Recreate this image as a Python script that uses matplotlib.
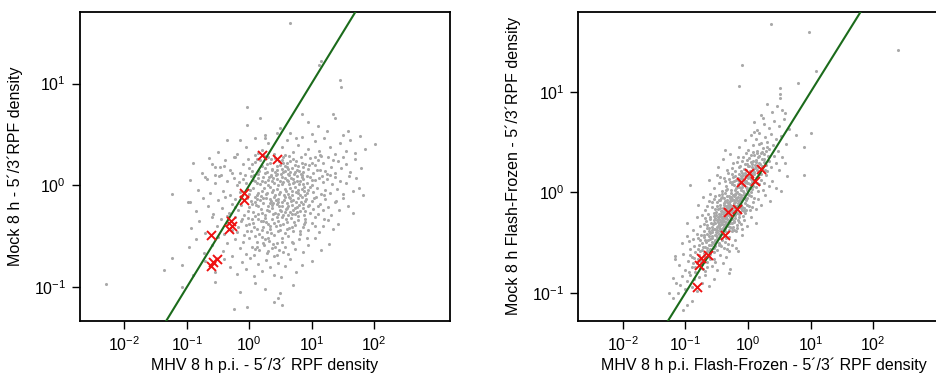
import numpy as np
import matplotlib
matplotlib.use('Agg')
import matplotlib.pyplot as plt
from matplotlib.ticker import NullLocator

plt.rcParams['font.family'] = ['Liberation Sans', 'DejaVu Sans']
plt.rcParams['mathtext.default'] = 'regular'

# ---- data (log10 values) ----
left_grey = [
    # ly > 0.55
    (0.66, 1.59), (1.15, 1.22), (1.12, 1.18), (1.45, 1.04), (1.48, 0.97),
    (-0.04, 0.77), (0.18, 0.66), (-0.04, 0.59), (0.85, 0.70), (1.35, 0.70), (1.37, 0.66),
    (1.58, 0.53), (1.78, 0.49), (0.95, 0.62), (0.5, 0.56), (1.1, 0.58),
    # 0.3 .. 0.55
    (2.02, 0.41), (1.62, 0.45), (1.45, 0.42), (1.3, 0.38), (1.2, 0.47), (1.05, 0.44), (0.95, 0.36),
    (0.85, 0.48), (0.78, 0.40), (0.7, 0.33), (0.6, 0.45), (0.52, 0.38), (0.4, 0.31), (0.3, 0.42),
    (0.2, 0.35), (0.1, 0.47), (-0.05, 0.38), (-0.2, 0.31), (-0.35, 0.45), (-0.5, 0.33), (1.55, 0.34),
    (1.7, 0.32), (1.38, 0.31), (1.12, 0.34), (0.9, 0.31), (0.45, 0.52), (0.25, 0.5), (1.0, 0.51),
    (1.25, 0.53), (0.65, 0.52), (1.5, 0.50), (0.15, 0.32), (-0.15, 0.45), (0.75, 0.47), (1.85, 0.36),
    # 0.1 .. 0.3
    (-0.9, 0.22), (-0.75, 0.12), (-0.65, 0.27), (-0.55, 0.18), (-0.45, 0.1), (-0.38, 0.25), (-0.3, 0.15),
    (-0.22, 0.28), (-0.15, 0.12), (-0.1, 0.21), (-0.02, 0.26), (0.05, 0.14), (0.1, 0.23), (0.14, 0.11),
    (0.2, 0.19), (0.24, 0.29), (0.28, 0.13), (0.33, 0.22), (0.37, 0.16), (0.41, 0.27), (0.45, 0.11),
    (0.49, 0.2), (0.53, 0.25), (0.57, 0.14), (0.61, 0.22), (0.64, 0.29), (0.68, 0.17), (0.72, 0.11),
    (0.75, 0.24), (0.79, 0.19), (0.83, 0.28), (0.87, 0.13), (0.9, 0.21), (0.94, 0.16), (0.98, 0.27),
    (1.02, 0.12), (1.06, 0.2), (1.1, 0.25), (1.14, 0.15), (1.18, 0.22), (1.22, 0.14), (1.27, 0.28),
    (1.32, 0.18), (1.38, 0.12), (1.42, 0.24), (1.48, 0.17), (1.55, 0.21), (1.62, 0.13), (1.7, 0.26),
    (1.8, 0.17), (0.58, 0.3), (0.3, 0.28), (0.85, 0.1), (1.25, 0.11), (0.0, 0.17), (0.12, 0.26),
    (0.44, 0.19), (0.7, 0.26), (0.96, 0.2), (1.15, 0.29), (-0.6, 0.21), (0.35, 0.1), (0.62, 0.11),
    (1.35, 0.25), (0.08, 0.1), (0.52, 0.16), (0.8, 0.14), (1.05, 0.28), (0.26, 0.47), (-0.25, 0.28),
    (-0.46, 0.18), (-0.54, 0.105), (-0.68, 0.06),
    # -0.1 .. 0.1
    (-1.23, -0.08), (-0.94, 0.05), (-0.82, -0.04), (-0.7, 0.08), (-0.62, -0.07), (-0.55, 0.02),
    (-0.48, 0.09), (-0.42, -0.05), (-0.36, 0.04), (-0.3, -0.09), (-0.25, 0.07), (-0.2, 0.0),
    (-0.14, -0.06), (-0.1, 0.06), (-0.05, 0.02), (0.0, -0.08), (0.03, 0.09), (0.06, -0.02),
    (0.09, 0.04), (0.12, -0.09), (0.15, 0.07), (0.17, 0.01), (0.2, -0.05), (0.23, 0.08), (0.25, 0.03),
    (0.28, -0.07), (0.3, 0.05), (0.33, -0.01), (0.35, 0.09), (0.38, -0.04), (0.4, 0.02), (0.42, -0.09),
    (0.45, 0.06), (0.47, 0.0), (0.5, -0.06), (0.52, 0.08), (0.55, 0.03), (0.57, -0.03), (0.6, 0.05),
    (0.62, -0.08), (0.64, 0.01), (0.67, 0.07), (0.69, -0.05), (0.72, 0.03), (0.74, -0.01), (0.77, 0.09),
    (0.79, -0.07), (0.82, 0.04), (0.84, -0.03), (0.87, 0.06), (0.9, -0.09), (0.92, 0.02), (0.95, -0.04),
    (0.98, 0.08), (1.0, 0.0), (1.03, -0.06), (1.06, 0.05), (1.09, -0.02), (1.12, 0.07), (1.15, -0.08),
    (1.18, 0.03), (1.21, -0.04), (1.25, 0.06), (1.29, -0.07), (1.33, 0.01), (1.37, 0.08), (1.41, -0.03),
    (1.46, 0.04), (1.5, -0.08), (1.55, 0.02), (1.6, 0.09), (1.66, -0.05), (1.71, 0.07), (1.76, -0.02),
    (1.83, -0.09), (0.24, -0.02), (0.36, 0.04), (0.44, -0.03), (0.53, 0.01), (0.58, 0.07), (0.66, -0.02),
    (0.71, 0.06), (0.8, 0.01), (0.88, -0.05), (0.31, 0.0), (0.49, 0.04), (0.63, 0.04), (0.75, -0.06),
    (0.85, 0.08), (0.97, -0.01), (0.13, 0.02),
    # -0.3 .. -0.1
    (-0.98, -0.16), (-0.85, -0.25), (-0.74, -0.12), (-0.66, -0.2), (-0.58, -0.28), (-0.5, -0.14),
    (-0.44, -0.22), (-0.38, -0.11), (-0.33, -0.27), (-0.27, -0.18), (-0.22, -0.13), (-0.18, -0.24),
    (-0.13, -0.19), (-0.08, -0.29), (-0.04, -0.12), (0.0, -0.21), (0.03, -0.15), (0.06, -0.26),
    (0.09, -0.11), (0.11, -0.19), (0.14, -0.28), (0.17, -0.14), (0.19, -0.23), (0.22, -0.17),
    (0.25, -0.29), (0.27, -0.12), (0.3, -0.2), (0.32, -0.25), (0.35, -0.15), (0.37, -0.22), (0.4, -0.11),
    (0.42, -0.27), (0.44, -0.18), (0.47, -0.13), (0.49, -0.24), (0.52, -0.2), (0.54, -0.29),
    (0.56, -0.14), (0.59, -0.23), (0.61, -0.17), (0.64, -0.11), (0.66, -0.26), (0.68, -0.19),
    (0.71, -0.14), (0.73, -0.28), (0.76, -0.21), (0.78, -0.12), (0.81, -0.25), (0.83, -0.16),
    (0.86, -0.22), (0.88, -0.29), (0.91, -0.13), (0.94, -0.2), (0.97, -0.27), (1.0, -0.15),
    (1.03, -0.23), (1.07, -0.11), (1.1, -0.28), (1.14, -0.18), (1.18, -0.24), (1.22, -0.13),
    (1.27, -0.21), (1.32, -0.29), (1.38, -0.16), (1.44, -0.24), (1.5, -0.12), (1.58, -0.2),
    (1.67, -0.27), (0.15, -0.2), (0.23, -0.12), (0.28, -0.24), (0.33, -0.17), (0.38, -0.28),
    (0.43, -0.14), (0.48, -0.2), (0.53, -0.16), (0.58, -0.26), (0.63, -0.2), (0.7, -0.24), (0.75, -0.16),
    (0.8, -0.19), (0.05, -0.18), (0.2, -0.27), (0.36, -0.19), (0.57, -0.11), (0.67, -0.15), (0.9, -0.25),
    (-0.02, -0.25), (0.12, -0.13), (0.46, -0.28), (0.62, -0.29), (0.85, -0.11), (-0.94, -0.16),
    # -0.5 .. -0.3
    (-0.93, -0.42), (-0.8, -0.35), (-0.7, -0.47), (-0.6, -0.31), (-0.52, -0.4), (-0.45, -0.33),
    (-0.4, -0.48), (-0.34, -0.37), (-0.28, -0.44), (-0.23, -0.31), (-0.18, -0.41), (-0.13, -0.35),
    (-0.09, -0.49), (-0.05, -0.39), (-0.01, -0.32), (0.03, -0.45), (0.06, -0.37), (0.1, -0.3),
    (0.13, -0.43), (0.16, -0.48), (0.19, -0.35), (0.22, -0.41), (0.25, -0.32), (0.28, -0.46),
    (0.31, -0.38), (0.34, -0.43), (0.37, -0.33), (0.4, -0.49), (0.43, -0.4), (0.46, -0.35),
    (0.49, -0.44), (0.52, -0.31), (0.55, -0.38), (0.58, -0.47), (0.61, -0.36), (0.64, -0.42),
    (0.67, -0.32), (0.7, -0.45), (0.74, -0.39), (0.78, -0.34), (0.82, -0.48), (0.86, -0.41),
    (0.9, -0.33), (0.95, -0.44), (1.0, -0.37), (1.06, -0.31), (1.12, -0.46), (1.19, -0.4),
    (1.27, -0.34), (1.35, -0.43), (1.43, -0.38), (0.08, -0.41), (0.2, -0.44), (0.27, -0.36),
    (0.35, -0.47), (0.45, -0.31), (0.5, -0.39), (0.6, -0.43), (0.72, -0.36), (0.15, -0.33),
    (0.4, -0.37), (-0.2, -0.46), (0.88, -0.38),
    # -0.7 .. -0.5
    (-1.23, -0.71), (-0.97, -0.6), (-0.85, -0.53), (-0.72, -0.66), (-0.6, -0.58), (-0.5, -0.51),
    (-0.42, -0.64), (-0.35, -0.56), (-0.28, -0.69), (-0.22, -0.53), (-0.15, -0.61), (-0.1, -0.55),
    (-0.05, -0.67), (0.0, -0.52), (0.04, -0.6), (0.08, -0.68), (0.12, -0.55), (0.16, -0.63),
    (0.2, -0.51), (0.24, -0.58), (0.28, -0.66), (0.32, -0.54), (0.36, -0.61), (0.4, -0.69),
    (0.44, -0.56), (0.48, -0.63), (0.53, -0.52), (0.58, -0.6), (0.63, -0.67), (0.68, -0.55),
    (0.74, -0.62), (0.8, -0.53), (0.87, -0.65), (0.95, -0.58), (1.05, -0.52), (1.15, -0.63),
    (1.28, -0.57), (0.1, -0.62), (0.26, -0.53), (0.38, -0.57), (0.55, -0.65),
    # -0.9 .. -0.7
    (-1.36, -0.83), (-1.08, -0.78), (-0.9, -0.88), (-0.7, -0.74), (-0.55, -0.85), (-0.4, -0.72),
    (-0.3, -0.8), (-0.2, -0.87), (-0.12, -0.75), (-0.05, -0.82), (0.02, -0.71), (0.08, -0.89),
    (0.14, -0.77), (0.2, -0.84), (0.27, -0.73), (0.33, -0.8), (0.4, -0.88), (0.46, -0.76),
    (0.51, -0.9), (0.58, -0.79), (0.66, -0.72), (0.75, -0.85), (0.85, -0.78), (1.0, -0.74),
    # below -0.9
    (-2.29, -0.97), (-1.08, -1.0), (-0.25, -1.21), (-0.04, -1.19), (0.4, -1.14), (0.47, -1.1),
    (0.53, -1.17), (0.5, -1.06), (-0.55, -0.95), (0.1, -0.96), (0.25, -1.02), (-0.15, -1.05),
    (0.7, -0.98),
    # extra points in the dense core
    (0.07, 0.05), (0.19, -0.1), (0.26, 0.12), (0.34, -0.13), (0.39, 0.07), (0.46, -0.16), (0.51, 0.11),
    (0.56, -0.09), (0.6, 0.18), (0.65, -0.12), (0.7, 0.02), (0.73, -0.22), (0.77, 0.15), (0.82, -0.09),
    (0.86, 0.18), (0.89, -0.15), (0.93, 0.09), (0.96, -0.19), (1.01, 0.05), (1.04, -0.12), (1.08, 0.15),
    (1.11, -0.2), (1.16, 0.09), (1.2, -0.09), (0.02, -0.04), (0.1, -0.16), (0.16, 0.14), (0.22, -0.35),
    (0.29, 0.21), (0.34, -0.4), (0.41, 0.13), (0.47, -0.45), (0.54, 0.22), (0.59, -0.33), (0.63, 0.16),
    (0.69, -0.41), (0.74, 0.2), (0.79, -0.3), (0.84, 0.22), (0.9, -0.36), (-0.07, 0.1), (-0.12, -0.33),
    (-0.17, 0.03), (-0.23, -0.21), (-0.28, 0.12), (-0.35, -0.3), (-0.4, 0.19), (0.0, -0.38), (0.05, 0.21),
    (0.1, -0.5), (0.18, 0.25), (0.23, -0.56), (0.3, -0.52), (0.36, 0.15), (0.42, -0.6), (0.48, 0.24),
    (0.52, -0.55), (0.57, 0.19), (0.62, -0.5), (0.66, 0.13), (0.71, -0.56), (0.76, 0.04), (0.81, -0.45),
    (0.86, 0.01), (0.93, -0.52), (1.0, 0.22), (1.06, -0.4), (1.13, 0.3), (1.2, -0.33), (1.3, 0.1),
    (1.4, -0.15), (1.5, 0.28), (0.27, -0.08), (0.32, 0.08), (0.37, -0.06), (0.43, 0.1), (0.48, -0.08),
    (0.54, 0.13), (0.59, -0.05), (0.64, 0.1), (0.68, -0.09), (0.73, 0.13), (0.78, -0.04), (0.83, 0.11),
    (0.88, -0.01), (0.93, -0.07), (0.21, 0.04), (0.15, -0.07), (0.39, -0.17), (0.51, -0.25), (0.6, -0.22),
    (0.69, -0.28), (0.77, -0.26), (0.87, -0.18), (0.45, 0.15), (0.35, 0.26), (0.25, 0.17), (0.55, 0.28),
    (0.65, 0.24), (0.04, -0.33), (-0.03, -0.45), (0.09, 0.3), (0.13, -0.6), (0.3, -0.64), (0.45, -0.68),
]
left_red = [
    (0.2, 0.30), (0.44, 0.26), (-0.08, -0.07), (-0.08, -0.14), (-0.29, -0.35), (-0.33, -0.43),
    (-0.27, -0.40), (-0.61, -0.49), (-0.52, -0.72), (-0.58, -0.75), (-0.61, -0.79),
]

right_grey = [
    # outliers
    (0.37, 1.68), (0.98, 1.60), (2.4, 1.42), (-0.09, 1.27), (1.09, 1.21), (-0.15, 1.06), (0.8, 1.09),
    (0.51, 1.04), (0.51, 0.98), (0.51, 0.94),
    # 0.6 .. 0.9
    (0.15, 0.62), (0.25, 0.68), (0.33, 0.64), (0.42, 0.71), (0.5, 0.66), (0.58, 0.73), (0.2, 0.77),
    (0.38, 0.8), (0.47, 0.86), (0.3, 0.88), (0.55, 0.82), (0.65, 0.63), (0.1, 0.7), (0.24, 0.74),
    (0.59, 0.79),
    # 0.4 .. 0.6
    (-0.15, 0.45), (-0.05, 0.52), (0.0, 0.42), (0.05, 0.57), (0.08, 0.47), (0.12, 0.53), (0.15, 0.41),
    (0.18, 0.59), (0.21, 0.49), (0.24, 0.44), (0.27, 0.55), (0.3, 0.5), (0.33, 0.43), (0.36, 0.58),
    (0.4, 0.47), (0.44, 0.53), (0.48, 0.41), (0.53, 0.56), (0.6, 0.48), (0.76, 0.57), (1.0, 0.59),
    (0.9, 0.45), (-0.37, 0.42), (0.1, 0.6), (0.28, 0.41),
    # 0.2 .. 0.4
    (-0.48, 0.25), (-0.4, 0.33), (-0.33, 0.22), (-0.28, 0.38), (-0.24, 0.29), (-0.2, 0.21),
    (-0.16, 0.35), (-0.13, 0.26), (-0.1, 0.31), (-0.07, 0.23), (-0.04, 0.39), (-0.02, 0.28),
    (0.01, 0.34), (0.03, 0.21), (0.05, 0.3), (0.07, 0.25), (0.09, 0.37), (0.11, 0.27), (0.13, 0.32),
    (0.15, 0.22), (0.17, 0.36), (0.19, 0.28), (0.21, 0.24), (0.23, 0.33), (0.26, 0.38), (0.28, 0.27),
    (0.31, 0.21), (0.34, 0.31), (0.37, 0.25), (0.41, 0.36), (0.45, 0.29), (0.5, 0.22), (0.59, 0.29),
    (0.55, 0.35), (-0.08, 0.35), (0.0, 0.26), (0.04, 0.37), (0.08, 0.22), (0.12, 0.3), (0.16, 0.25),
    (-0.12, 0.21), (-0.18, 0.3), (0.2, 0.39), (0.25, 0.3), (-0.01, 0.32), (0.06, 0.28), (0.14, 0.39),
    (-0.25, 0.24), (0.32, 0.36),
    # 0.0 .. 0.2
    (-0.93, 0.07), (-0.62, 0.12), (-0.55, 0.04), (-0.5, 0.17), (-0.46, 0.09), (-0.42, 0.01),
    (-0.39, 0.14), (-0.35, 0.06), (-0.32, 0.19), (-0.29, 0.1), (-0.27, 0.02), (-0.24, 0.15),
    (-0.22, 0.07), (-0.19, 0.12), (-0.17, 0.0), (-0.15, 0.18), (-0.13, 0.09), (-0.11, 0.04),
    (-0.09, 0.14), (-0.07, 0.07), (-0.05, 0.19), (-0.03, 0.11), (-0.01, 0.02), (0.01, 0.16),
    (0.03, 0.08), (0.05, 0.13), (0.07, 0.03), (0.09, 0.18), (0.11, 0.1), (0.13, 0.05), (0.15, 0.15),
    (0.18, 0.08), (0.21, 0.12), (0.24, 0.02), (0.28, 0.17), (0.33, 0.06), (0.38, 0.11), (0.45, 0.04),
    (0.53, 0.01), (0.9, 0.17), (0.62, 0.16), (-0.3, 0.13), (-0.26, 0.08), (-0.21, 0.16), (-0.18, 0.05),
    (-0.14, 0.11), (-0.12, 0.16), (-0.1, 0.08), (-0.08, 0.01), (-0.06, 0.12), (-0.04, 0.05),
    (-0.02, 0.15), (0.0, 0.09), (0.02, 0.04), (0.04, 0.19), (0.06, 0.1), (-0.2, 0.02), (-0.16, 0.14),
    (-0.25, 0.18), (-0.36, 0.11), (-0.44, 0.15), (0.08, 0.06), (0.12, 0.14), (0.16, 0.01), (0.2, 0.18),
    (-0.33, 0.03), (-0.23, 0.11), (-0.09, 0.19), (0.26, 0.09), (0.1, 0.12), (-0.12, 0.02),
    # -0.2 .. 0.0
    (-0.8, -0.12), (-0.72, -0.05), (-0.68, -0.17), (-0.63, -0.09), (-0.6, -0.02), (-0.57, -0.14),
    (-0.54, -0.07), (-0.51, -0.19), (-0.49, -0.1), (-0.47, -0.03), (-0.45, -0.15), (-0.43, -0.06),
    (-0.41, -0.18), (-0.39, -0.11), (-0.37, -0.01), (-0.35, -0.13), (-0.33, -0.08), (-0.31, -0.17),
    (-0.3, -0.04), (-0.28, -0.12), (-0.26, -0.19), (-0.25, -0.07), (-0.23, -0.14), (-0.21, -0.02),
    (-0.2, -0.1), (-0.18, -0.16), (-0.16, -0.05), (-0.14, -0.12), (-0.13, -0.19), (-0.11, -0.08),
    (-0.09, -0.14), (-0.07, -0.03), (-0.05, -0.11), (-0.03, -0.17), (-0.01, -0.06), (0.02, -0.13),
    (0.05, -0.04), (0.08, -0.1), (0.12, -0.16), (0.16, -0.07), (0.21, -0.12), (0.27, -0.03),
    (0.35, -0.09), (-0.5, -0.13), (-0.46, -0.08), (-0.44, -0.12), (-0.42, -0.02), (-0.4, -0.15),
    (-0.38, -0.06), (-0.36, -0.17), (-0.34, -0.04), (-0.32, -0.12), (-0.29, -0.09), (-0.27, -0.15),
    (-0.24, -0.03), (-0.22, -0.11), (-0.19, -0.06), (-0.17, -0.13), (-0.15, -0.09), (-0.12, -0.03),
    (-0.1, -0.17), (-0.08, -0.06), (-0.06, -0.15), (-0.04, -0.08), (-0.02, -0.12), (0.0, -0.02),
    (0.03, -0.17), (-0.27, -0.01), (-0.31, -0.11), (-0.35, -0.19), (-0.25, -0.13), (-0.21, -0.17),
    (-0.19, -0.01), (-0.16, -0.11), (-0.13, -0.07), (-0.48, -0.16), (-0.52, -0.04), (-0.58, -0.1),
    (-0.65, -0.13), (0.06, -0.14), (0.1, -0.06), (-0.37, -0.09), (-0.29, -0.06), (-0.23, -0.08),
    (-0.11, -0.12), (-0.07, -0.18), (-0.41, -0.05), (-0.53, -0.16),
    # -0.4 .. -0.2
    (-0.97, -0.3), (-0.88, -0.37), (-0.82, -0.24), (-0.77, -0.33), (-0.73, -0.22), (-0.7, -0.38),
    (-0.67, -0.28), (-0.64, -0.21), (-0.62, -0.35), (-0.6, -0.26), (-0.58, -0.39), (-0.56, -0.31),
    (-0.54, -0.23), (-0.52, -0.36), (-0.5, -0.27), (-0.48, -0.33), (-0.47, -0.21), (-0.45, -0.38),
    (-0.43, -0.29), (-0.41, -0.24), (-0.4, -0.35), (-0.38, -0.22), (-0.36, -0.31), (-0.34, -0.26),
    (-0.33, -0.39), (-0.31, -0.28), (-0.29, -0.34), (-0.27, -0.23), (-0.25, -0.3), (-0.23, -0.37),
    (-0.2, -0.25), (-0.17, -0.32), (-0.14, -0.21), (-0.1, -0.36), (-0.06, -0.27), (-0.02, -0.33),
    (0.04, -0.24), (0.12, -0.3), (-0.66, -0.32), (-0.61, -0.24), (-0.57, -0.34), (-0.55, -0.27),
    (-0.53, -0.3), (-0.51, -0.22), (-0.49, -0.37), (-0.46, -0.26), (-0.44, -0.32), (-0.42, -0.36),
    (-0.4, -0.27), (-0.39, -0.21), (-0.37, -0.35), (-0.35, -0.29), (-0.32, -0.22), (-0.3, -0.37),
    (-0.28, -0.3), (-0.26, -0.26), (-0.24, -0.34), (-0.22, -0.29), (-0.19, -0.38), (-0.16, -0.27),
    (-0.12, -0.31), (-0.08, -0.23), (-0.48, -0.29), (-0.5, -0.39), (-0.45, -0.23), (-0.41, -0.31),
    (-0.36, -0.25), (-0.32, -0.33), (-0.59, -0.3), (-0.63, -0.38), (-0.68, -0.25), (-0.71, -0.31),
    (-0.26, -0.38), (-0.21, -0.22), (-0.18, -0.35), (-0.43, -0.21), (-0.55, -0.36), (-0.34, -0.39),
    (-0.38, -0.28), (-0.47, -0.34), (-0.52, -0.25), (-0.29, -0.24), (-0.15, -0.29),
    # -0.6 .. -0.4
    (-1.05, -0.5), (-0.98, -0.43), (-0.92, -0.56), (-0.88, -0.46), (-0.85, -0.59), (-0.82, -0.41),
    (-0.79, -0.52), (-0.76, -0.47), (-0.74, -0.57), (-0.71, -0.44), (-0.69, -0.54), (-0.67, -0.49),
    (-0.65, -0.41), (-0.63, -0.58), (-0.61, -0.46), (-0.59, -0.52), (-0.57, -0.43), (-0.55, -0.55),
    (-0.53, -0.48), (-0.51, -0.42), (-0.49, -0.57), (-0.47, -0.5), (-0.45, -0.45), (-0.43, -0.53),
    (-0.4, -0.41), (-0.37, -0.49), (-0.34, -0.56), (-0.3, -0.44), (-0.26, -0.52), (-0.21, -0.47),
    (-0.16, -0.58), (-0.1, -0.42), (-0.19, -0.55), (-0.3, -0.58), (-0.8, -0.45), (-0.73, -0.5),
    (-0.66, -0.55), (-0.62, -0.43), (-0.58, -0.49), (-0.54, -0.59), (-0.5, -0.46), (-0.46, -0.52),
    (-0.42, -0.47), (-0.39, -0.55), (-0.36, -0.43), (-0.32, -0.51), (-0.7, -0.42), (-0.86, -0.53),
    (-0.94, -0.48), (-0.6, -0.56), (-0.44, -0.42), (-0.52, -0.53), (-0.77, -0.58), (-0.68, -0.47),
    # -0.8 .. -0.6
    (-1.17, -0.63), (-1.17, -0.66), (-1.1, -0.72), (-1.04, -0.61), (-1.0, -0.77), (-0.96, -0.68),
    (-0.93, -0.62), (-0.9, -0.74), (-0.87, -0.65), (-0.84, -0.79), (-0.82, -0.7), (-0.79, -0.62),
    (-0.77, -0.75), (-0.75, -0.67), (-0.73, -0.71), (-0.7, -0.63), (-0.68, -0.78), (-0.65, -0.69),
    (-0.62, -0.64), (-0.58, -0.73), (-0.54, -0.66), (-0.5, -0.77), (-0.45, -0.62), (-0.4, -0.7),
    (-0.35, -0.64), (-0.28, -0.76), (-0.88, -0.7), (-0.8, -0.66), (-0.72, -0.76), (-0.6, -0.61),
    (-0.95, -0.79), (-0.52, -0.69), (-0.66, -0.74), (-0.3, -0.8),
    # -1.0 .. -0.8
    (-1.26, -1.0), (-1.2, -0.85), (-1.12, -1.0), (-1.08, -0.92), (-1.05, -0.83), (-1.0, -0.96),
    (-0.97, -0.88), (-0.93, -0.82), (-0.9, -0.94), (-0.86, -0.86), (-0.82, -0.98), (-0.78, -0.84),
    (-0.73, -0.9), (-0.68, -0.82), (-0.62, -0.93), (-0.55, -0.86), (-1.15, -0.9),
    # below -1.0
    (-1.04, -1.17), (-1.2, -1.05), (-0.9, -1.08), (-0.98, -1.12),
    # extra points along the dense band
    (-0.76, -0.68), (-0.7, -0.6), (-0.66, -0.58), (-0.62, -0.52), (-0.58, -0.45), (-0.56, -0.5),
    (-0.53, -0.42), (-0.51, -0.39), (-0.49, -0.44), (-0.47, -0.31), (-0.45, -0.27), (-0.44, -0.36),
    (-0.42, -0.25), (-0.4, -0.19), (-0.39, -0.33), (-0.37, -0.16), (-0.35, -0.24), (-0.34, -0.1),
    (-0.32, -0.2), (-0.3, -0.14), (-0.29, -0.27), (-0.27, -0.05), (-0.26, -0.17), (-0.24, -0.22),
    (-0.22, -0.04), (-0.21, -0.13), (-0.19, 0.04), (-0.18, -0.08), (-0.16, 0.08), (-0.15, -0.02),
    (-0.13, 0.13), (-0.12, -0.05), (-0.1, 0.05), (-0.08, 0.17), (-0.07, -0.01), (-0.05, 0.1),
    (-0.03, 0.22), (-0.02, 0.03), (0.0, 0.14), (0.02, 0.26), (0.04, 0.07), (0.06, 0.17), (0.08, 0.31),
    (0.1, 0.2), (0.13, 0.26), (0.16, 0.35), (0.19, 0.18), (0.23, 0.4), (0.27, 0.22), (0.3, 0.45),
    (-0.72, -0.54), (-0.68, -0.64), (-0.64, -0.47), (-0.6, -0.4), (-0.57, -0.37), (-0.55, -0.3),
    (-0.52, -0.47), (-0.5, -0.34), (-0.48, -0.24), (-0.46, -0.41), (-0.43, -0.18), (-0.41, -0.29),
    (-0.38, -0.12), (-0.36, -0.38), (-0.33, -0.15), (-0.31, -0.3), (-0.28, -0.18), (-0.26, -0.08),
    (-0.23, -0.28), (-0.2, -0.03), (-0.17, -0.2), (-0.14, 0.05), (-0.11, -0.15), (-0.09, 0.09),
    (-0.06, -0.06), (-0.04, 0.17), (-0.01, 0.09), (0.01, -0.03), (0.03, 0.15), (0.07, 0.12),
    (0.11, 0.24), (0.14, 0.09), (0.17, 0.29), (0.22, 0.26), (0.26, 0.33), (-0.85, -0.74), (-0.8, -0.56),
    (-0.9, -0.64), (-0.6, -0.66), (-0.45, -0.52), (-0.35, -0.45), (-0.25, -0.35), (-0.15, -0.24),
    (-0.05, -0.2), (0.05, 0.0), (-0.55, -0.2), (-0.45, -0.08), (-0.35, 0.02), (-0.25, 0.1),
    (-0.15, 0.25), (-0.05, 0.28), (0.08, 0.4), (0.18, 0.48), (-0.65, -0.35), (-0.75, -0.42),
]
right_red = [
    (0.2, 0.23), (0.02, 0.195), (0.11, 0.115), (-0.11, 0.105), (-0.18, -0.16), (-0.32, -0.19),
    (-0.36, -0.425), (-0.64, -0.62), (-0.75, -0.65), (-0.78, -0.72), (-0.82, -0.94),
]

x_ticks = [-2, -1, 0, 1, 2]
y_ticks = [-1, 0, 1]

left_xlabel = 'MHV 8 h p.i. - 5\u00b4/3\u00b4 RPF density'
left_ylabel = 'Mock 8 h - 5\u00b4/3\u00b4RPF density'
right_xlabel = 'MHV 8 h p.i. Flash-Frozen - 5\u00b4/3\u00b4 RPF density'
right_ylabel = 'Mock 8 h Flash-Frozen - 5\u00b4/3\u00b4RPF density'

GREY = '#a9a9a9'
RED = '#ee1111'
GREEN = '#1b6b1b'


def draw(ax, grey, red, xlabel, ylabel, ylim):
    g = 10.0 ** np.array(grey)
    r = 10.0 ** np.array(red)
    ax.set_xscale('log')
    ax.set_yscale('log')
    ax.scatter(g[:, 0], g[:, 1], s=5, color=GREY, linewidths=0, zorder=2)
    ax.scatter(r[:, 0], r[:, 1], s=42, marker='x', color=RED, linewidths=1.4, zorder=4)
    lim = np.array([1e-4, 1e4])
    ax.plot(lim, lim, color=GREEN, lw=1.5, zorder=3)
    ax.set_xlim(10 ** -2.71, 10 ** 3.22)
    ax.set_ylim(10 ** ylim[0], 10 ** ylim[1])
    ax.set_xticks([10.0 ** t for t in x_ticks])
    ax.set_yticks([10.0 ** t for t in y_ticks])
    ax.xaxis.set_minor_locator(NullLocator())
    ax.yaxis.set_minor_locator(NullLocator())
    ax.tick_params(direction='out', length=6, width=1, labelsize=11.5, pad=4)
    for s in ax.spines.values():
        s.set_linewidth(1.3)
    ax.set_xlabel(xlabel, fontsize=11.5, labelpad=3)
    ax.set_ylabel(ylabel, fontsize=11.5, labelpad=8)


fig = plt.figure(figsize=(9.37, 3.78), dpi=100)
ax1 = fig.add_axes([0.0854, 0.1508, 0.3949, 0.8167])
ax2 = fig.add_axes([0.6172, 0.1508, 0.3963, 0.8183])
draw(ax1, left_grey, left_red, left_xlabel, left_ylabel, (-1.33, 1.70))
draw(ax2, right_grey, right_red, right_xlabel, right_ylabel, (-1.28, 1.80))
fig.savefig('out.png', dpi=100)
